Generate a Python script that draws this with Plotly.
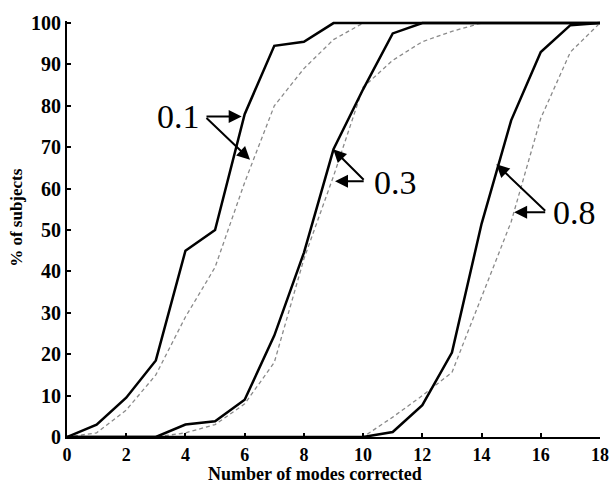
import plotly.graph_objects as go

# number of modes corrected
modes = list(range(19))

# % of subjects, solid = measured, dashed = model
solid_01 = [0, 3, 9.5, 18.5, 45, 50, 78, 94.5, 95.5, 100, 100, 100, 100, 100, 100, 100, 100, 100, 100]
dash_01 = [0, 1, 6.5, 15, 29, 41, 61.5, 80, 89, 96, 100, 100, 100, 100, 100, 100, 100, 100, 100]

solid_03 = [0, 0, 0, 0, 3, 3.8, 9, 24.5, 44.5, 69.5, 84, 97.5, 100, 100, 100, 100, 100, 100, 100]
dash_03 = [0, 0, 0, 0, 1, 3, 8, 18, 43, 63, 84.5, 91, 95.5, 98, 100, 100, 100, 100, 100]

solid_08 = [0, 0, 0, 0, 0, 0, 0, 0, 0, 0, 0, 1.2, 7.7, 20.4, 51.5, 76.5, 93, 99.5, 100]
dash_08 = [0, 0, 0, 0, 0, 0, 0, 0, 0, 0, 0, 4.8, 10, 15.6, 34, 52, 77, 93, 100]

labels = ["0.1", "0.3", "0.8"]

FONT = "Liberation Serif"

fig = go.Figure()

for s, d in [(solid_01, dash_01), (solid_03, dash_03), (solid_08, dash_08)]:
    fig.add_trace(go.Scatter(x=modes, y=d, mode="lines",
                             line=dict(color="#8a8a8a", width=1.3, dash="4px,3px")))
    fig.add_trace(go.Scatter(x=modes, y=s, mode="lines",
                             line=dict(color="black", width=2.5)))

# label text + arrow (tail, head to solid, head to dashed)
label_pos = [(4.55, 77.4, "right"), (10.3, 61.5, "left"), (16.35, 54.3, "left")]
tails = [(4.66, 77.4), (10.07, 61.8), (16.2, 54.3)]
heads = [[(5.9, 77.4), (6.18, 67)],
         [(8.99, 69.5), (9.05, 61.8)],
         [(14.5, 65.9), (15.1, 54.3)]]

annots = []
for lab, (lx, ly, anc), (tx, ty), hh in zip(labels, label_pos, tails, heads):
    annots.append(dict(x=lx, y=ly, xref="x", yref="y", text=lab, showarrow=False,
                       xanchor=anc, yanchor="middle",
                       font=dict(family=FONT, size=34, color="black")))
    for hx, hy in hh:
        annots.append(dict(x=hx, y=hy, ax=tx, ay=ty, xref="x", yref="y",
                           axref="x", ayref="y", text="", showarrow=True,
                           arrowhead=2, arrowsize=1.3, arrowwidth=2,
                           arrowcolor="black", standoff=0, startstandoff=0))

annots.append(dict(x=0.465, y=-0.089, xref="paper", yref="paper",
                   text="Number of modes corrected", showarrow=False,
                   xanchor="center", yanchor="middle",
                   font=dict(family=FONT, size=18, color="black", weight="bold")))
annots.append(dict(x=-0.094, y=0.529, xref="paper", yref="paper",
                   text="% of subjects", showarrow=False, textangle=-90,
                   xanchor="center", yanchor="middle",
                   font=dict(family=FONT, size=17, color="black", weight="bold")))

fig.update_layout(
    width=611, height=482,
    margin=dict(l=67, r=11, t=21, b=45, autoexpand=False),
    plot_bgcolor="white", paper_bgcolor="white",
    showlegend=False,
    annotations=annots,
    xaxis=dict(range=[0, 18], tickvals=list(range(0, 19, 2)), automargin=False,
               showline=True, linecolor="black", linewidth=2,
               ticks="inside", ticklen=4, tickwidth=2, tickcolor="black",
               showgrid=False, zeroline=False,
               tickfont=dict(family=FONT, size=18, color="black", weight="bold")),
    yaxis=dict(range=[0, 100.5], tickvals=list(range(0, 101, 10)), automargin=False,
               showline=True, linecolor="black", linewidth=2,
               ticks="inside", ticklen=4, tickwidth=2, tickcolor="black",
               showgrid=False, zeroline=False,
               tickfont=dict(family=FONT, size=20, color="black", weight="bold")),
)

# drop the default page margin so the figure sits at the window corner
fig.write_html("out.html",
               config={"displayModeBar": False, "responsive": False},
               post_script="document.body.style.margin='0';")
